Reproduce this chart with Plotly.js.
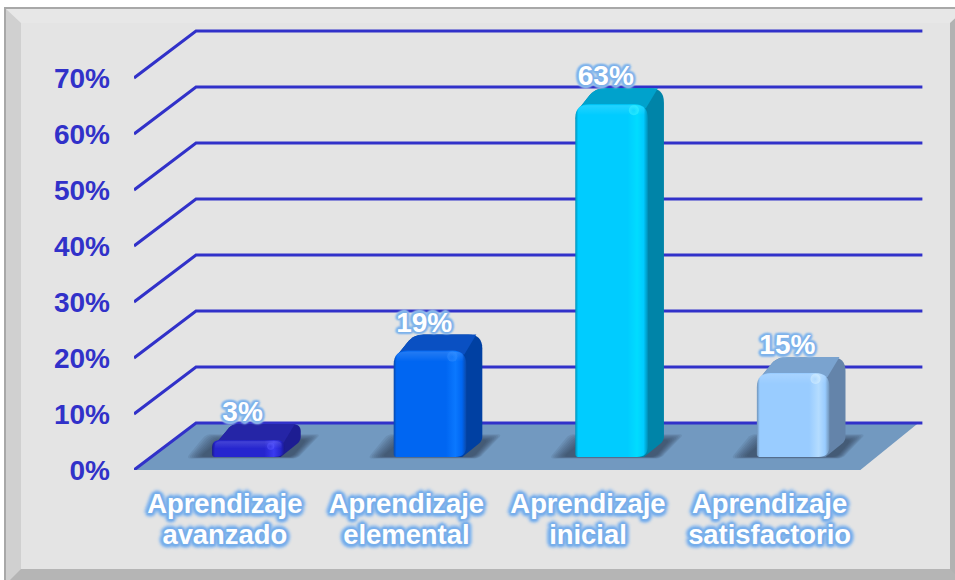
<!DOCTYPE html>
<html><head><meta charset="utf-8">
<script src="https://cdn.plot.ly/plotly-3.0.1.min.js"></script>
<style>
html,body{margin:0;padding:0;background:#fff;width:955px;height:580px;overflow:hidden}
#frame{position:absolute;left:6px;top:9px;width:929px;height:546px;box-sizing:content-box;background:#e4e4e4;
border-style:solid;border-width:14px 15px 15px 15px;border-color:#e7e7e7 #b2b2b2 #b5b5b5 #d0d0d0;
outline:2px solid #a8a8a8}
#chart{position:absolute;left:0;top:0;width:955px;height:580px}
</style></head><body>
<div id="frame"></div><div id="chart"></div>
<script>
const line1 = ['Aprendizaje','Aprendizaje','Aprendizaje','Aprendizaje'];
const line2 = ['avanzado','elemental','inicial','satisfactorio'];
const values = [3,19,63,15];
const yTicks = [0,10,20,30,40,50,60,70];
const yTickText = ['0%','10%','20%','30%','40%','50%','60%','70%'];
const frontColors = ['#2626cf','#0066f2','#00ccff','#99ccff'];
const lightColors = ['#3a3af0','#0a78ff','#00dcff','#b4dcff'];
const edgeColors  = ['#1a1a8c','#0a48a8','#0090b8','#6f93b8'];
const topColors   = ['#2525a6','#0a50c2','#00a2cc','#7aa3cf'];
const sideColors  = ['#1d1d92','#0040a2','#0084a8','#6484aa'];
const glowCore    = ['rgba(90,90,255,.55)','rgba(50,140,255,.55)','rgba(60,240,255,.6)','rgba(215,240,255,.6)'];
const glowFade    = ['rgba(90,90,255,0)','rgba(50,140,255,0)','rgba(60,240,255,0)','rgba(215,240,255,0)'];

const SX=181.5, SY=5.6;
const depthX=62/SX, depthY=47/SY;
const barX=.43, barW=.40, baseY=13/SY, bdx=16/SX, bdxLeft=20/SX, bdy=16/SY;
const BLUE='#3131c9', FONT='"Liberation Sans",Arial,sans-serif';

function rounded(pts){ // pts: [x,y,rpx]
  const P=pts.map(p=>[p[0]*SX,p[1]*SY,p[2]||0]); const xs=[],ys=[]; const n=P.length;
  P.forEach((p,i)=>{
    const a=P[(i+n-1)%n], b=P[(i+1)%n];
    if(!p[2]){xs.push(p[0]/SX);ys.push(p[1]/SY);return;}
    const la=Math.hypot(a[0]-p[0],a[1]-p[1]), lb=Math.hypot(b[0]-p[0],b[1]-p[1]);
    const ra=Math.min(p[2],la/2), rb=Math.min(p[2],lb/2);
    const s=[p[0]+(a[0]-p[0])*ra/la,p[1]+(a[1]-p[1])*ra/la], e=[p[0]+(b[0]-p[0])*rb/lb,p[1]+(b[1]-p[1])*rb/lb];
    for(let k=0;k<=8;k++){const t=k/8,u=1-t;
      xs.push((u*u*s[0]+2*u*t*p[0]+t*t*e[0])/SX); ys.push((u*u*s[1]+2*u*t*p[1]+t*t*e[1])/SY);}
  });
  xs.push(xs[0]);ys.push(ys[0]); return {x:xs,y:ys};
}
const skip={hoverinfo:'skip',showlegend:false};
const traces=[];
function poly(pts,extra){traces.push(Object.assign({type:'scatter',mode:'none',fill:'toself'},rounded(pts),skip,extra));}

// floor
poly([[0,0],[depthX,depthY],[3.978+depthX,depthY],[4,0]],{fillcolor:'#7299c0'});
// grid lines
yTicks.forEach(t=>{
  traces.push(Object.assign({type:'scatter',mode:'lines',x:[0,depthX,4+depthX],y:[t,t+depthY,t+depthY],
    line:{color:BLUE,width:3},cliponaxis:false},skip));
});
// bars
values.forEach((v,i)=>{
  const x0=i+barX,x1=x0+barW,y0=baseY,yt=y0+v;
  const px=1/SX,py=1/SY;
  // soft floor shadow: nested low-alpha layers
  [12,10,8,6,4,2,0,-2].forEach(g=>{
    poly([[x0-(14+g)*px,y0-(0+g*.12)*py,5],[x1+(8+g*.4)*px,y0-(0+g*.12)*py,5],[x1+(24+g)*px,y0+(18+g*.4)*py,5],[x0+(6-g)*px,y0+(18+g*.4)*py,5]],
      {fillcolor:'rgba(38,50,72,.1)'});
  });
  const R=Math.min(14,v*SY*.45);
  const inX=x0+4*px, inY=yt-Math.min(4,R*.4)*py;
  // back silhouette (side colour), then the top face over it
  poly([[x1-12*px,y0,0],[x1-4*px,y0,0],[x1+bdx,y0+bdy,5],[x1+bdx,yt+bdy,R],[x0+bdxLeft,yt+bdy,R*.7],[inX,inY,0]],{fillcolor:sideColors[i]});
  poly([[inX,inY,0],[x0+bdxLeft,yt+bdy,R*.7],[x1+bdx-6*px,yt+bdy,0],[x1-2*px,yt-4*py,0]],{fillcolor:topColors[i]});
  // front face
  poly([[x0,y0,3],[x1,y0,11],[x1,yt,R],[x0,yt,R]],{fillgradient:{type:'horizontal',colorscale:[
    [0,edgeColors[i]],[.04,frontColors[i]],[.72,frontColors[i]],[.85,lightColors[i]],[.94,frontColors[i]],[1,edgeColors[i]]]}});
  // bevel on the upper edge of the front face
  const band=Math.min(11,v*SY*.5);
  poly([[x0+3*px,yt-band*py,0],[x1-3*px,yt-band*py,0],[x1-3*px,yt-1*py,R*.8],[x0+3*px,yt-1*py,R*.8]],
    {fillgradient:{type:'vertical',colorscale:[[0,'rgba(255,255,255,0)'],[1,'rgba(255,255,255,0.14)']]}});
  // corner glint
  traces.push(Object.assign({type:'scatter',mode:'markers',x:[x1-14*px],y:[yt-6*py],
    marker:{size:v<5?7:10,color:glowCore[i],gradient:{type:'radial',color:glowFade[i]},line:{width:0}}},skip));
});
function ring(r,blur,col){return [[1,0],[-1,0],[0,1],[0,-1],[.7,.7],[-.7,.7],[.7,-.7],[-.7,-.7]]
  .map(d=>`${(d[0]*r).toFixed(1)}px ${(d[1]*r).toFixed(1)}px ${blur}px ${col}`).join(', ');}
const glowLabel=[ring(2,2,'#78aeea'),ring(4,3,'#9cc2ee')].join(', ');
const glowValue=[ring(1.5,2,'#7fb2ea'),ring(2.5,2,'#a6c8ee')].join(', ');
// value labels (second x axis: top layer)
traces.push(Object.assign({type:'scatter',mode:'text',xaxis:'x2',
  x:values.map((v,i)=>i+.598),
  y:values.map(v=>baseY+v+bdy+10/SY),
  text:values.map(v=>v+'%'),textposition:'middle center',cliponaxis:false,
  textfont:{family:FONT,size:28,color:'#ffffff',weight:'bold',shadow:glowValue}},skip));

const tickX=[.5,1.5,2.5,3.5];
const xCommon={range:[0,4.4],tickmode:'array',tickvals:tickX,showgrid:false,zeroline:false,showline:false,ticks:'',fixedrange:true,
  tickfont:{family:FONT,size:27.4,color:'#ffffff',weight:'bold',shadow:glowLabel}};
Plotly.newPlot('chart',traces,{
  width:955,height:580,margin:{l:134,r:22.4,t:20,b:110,pad:0},
  paper_bgcolor:'rgba(0,0,0,0)',plot_bgcolor:'rgba(0,0,0,0)',showlegend:false,hovermode:false,
  xaxis:Object.assign({},xCommon,{ticktext:line1,ticklabelstandoff:15}),
  xaxis2:Object.assign({},xCommon,{ticktext:line2,overlaying:'x',anchor:'y',side:'bottom',ticklabelstandoff:46}),
  yaxis:{range:[0,450/SY],tickmode:'array',tickvals:yTicks,ticktext:yTickText,showgrid:false,zeroline:false,showline:false,ticks:'',
    ticklabelstandoff:23,fixedrange:true,tickfont:{family:FONT,size:28,color:BLUE,weight:'bold'}}
},{displayModeBar:false,staticPlot:true});
</script>
</body></html>
